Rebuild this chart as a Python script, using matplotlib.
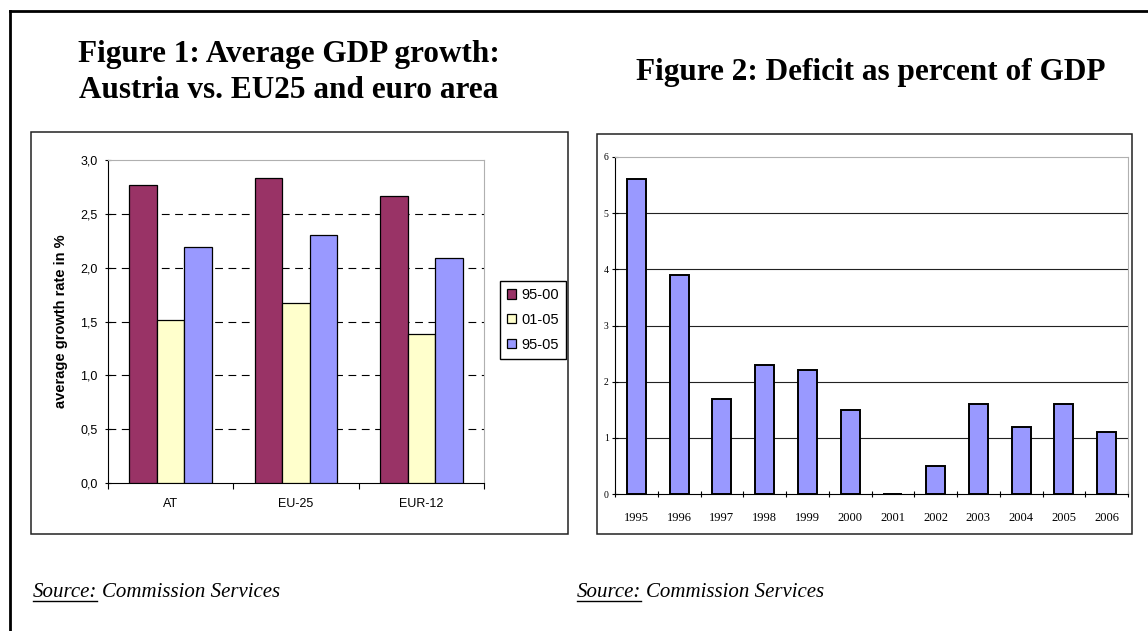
import matplotlib.pyplot as plt
import numpy as np
from matplotlib.patches import Rectangle
from matplotlib.lines import Line2D

# Figure 1 data
regions = ['AT', 'EU-25', 'EUR-12']
periods = ['95-00', '01-05', '95-05']
g_95_00 = [2.77, 2.83, 2.67]
g_01_05 = [1.51, 1.67, 1.38]
g_95_05 = [2.19, 2.30, 2.09]
growth_colors = ['#993366', '#FFFFCC', '#9999FF']

# Figure 2 data
years = ['1995', '1996', '1997', '1998', '1999', '2000',
         '2001', '2002', '2003', '2004', '2005', '2006']
deficit = [5.6, 3.9, 1.7, 2.3, 2.2, 1.5, 0.0, 0.5, 1.6, 1.2, 1.6, 1.1]

W, H = 1148, 631
fig = plt.figure(figsize=(W / 100, H / 100), dpi=100)
renderer = fig.canvas.get_renderer()

def fx(px):
    return px / W

def fy(py):
    return 1 - py / H

# outer frame (only left and top edges visible)
fig.add_artist(Line2D([fx(10), fx(10)], [fy(11), 0], color='black', lw=2))
fig.add_artist(Line2D([fx(10), 1], [fy(11), fy(11)], color='black', lw=2))

# panel boxes
fig.add_artist(Rectangle((fx(31), fy(534)), fx(568 - 31), (534 - 132) / H,
                         fill=False, ec='#222222', lw=1.1))
fig.add_artist(Rectangle((fx(597), fy(534)), fx(1132 - 597), (534 - 134) / H,
                         fill=False, ec='#222222', lw=1.1))

# titles
title_font = dict(family='Liberation Serif', weight='bold', fontsize=22.5)
fig.text(fx(289), fy(62), 'Figure 1: Average GDP growth:', ha='center', va='baseline', **title_font)
fig.text(fx(289), fy(98), 'Austria vs. EU25 and euro area', ha='center', va='baseline', **title_font)
fig.text(fx(1105), fy(80), 'Figure 2: Deficit as percent of GDP', ha='right', va='baseline', **title_font)

# source notes
src_font = dict(family='Liberation Serif', style='italic', fontsize=15)
for x0 in [33, 577]:
    t = fig.text(fx(x0), fy(597), 'Source:', ha='left', va='baseline', **src_font)
    bb = t.get_window_extent(renderer)
    fig.text(fx(bb.x1 + 5), fy(597), 'Commission Services', ha='left', va='baseline', **src_font)
    fig.add_artist(Line2D([fx(bb.x0), fx(bb.x1)], [fy(601), fy(601)], color='black', lw=1))

# ---- Figure 1 ----
ax1 = fig.add_axes([fx(108), fy(483), fx(484 - 108), (483 - 160) / H])
x = np.arange(len(regions)) + 0.5
bw = 0.22
for i, (vals, lab) in enumerate(zip([g_95_00, g_01_05, g_95_05], periods)):
    ax1.bar(x + (i - 1) * bw, vals, bw, color=growth_colors[i], edgecolor='black',
            lw=0.9, label=lab, zorder=3)
ax1.set_xlim(0, 3)
ax1.set_ylim(0, 3.0)
yt = np.arange(0, 3.01, 0.5)
ax1.set_yticks(yt)
ax1.set_yticklabels([('%.1f' % v).replace('.', ',') for v in yt],
                    family='Liberation Sans', fontsize=9)
ax1.set_xticks([0, 1, 2, 3])
ax1.set_xticklabels([])
ax1.set_xticks(x, minor=True)
ax1.set_xticklabels(regions, minor=True, family='Liberation Sans', fontsize=9)
ax1.tick_params(axis='x', which='minor', length=0, pad=11)
ax1.tick_params(axis='x', which='major', length=4, direction='out', width=0.8)
ax1.tick_params(axis='y', length=5, direction='inout', width=0.8, pad=5)
for v in yt[1:-1]:
    ax1.axhline(v, color='black', ls=(0, (7, 5)), lw=0.8, zorder=1)
ax1.spines['top'].set_color('#b0b0b0')
ax1.spines['right'].set_color('#b0b0b0')
ax1.set_ylabel('average growth rate in %', family='Liberation Sans', weight='bold',
               fontsize=10.5, labelpad=9)
ax1.legend(loc='center left', bbox_to_anchor=(fx(500), fy(320)),
           bbox_transform=fig.transFigure, prop={'family': 'Liberation Sans', 'size': 10.5},
           handlelength=0.6, handleheight=0.6, handletextpad=0.35, labelspacing=0.75,
           borderpad=0.5, borderaxespad=0, fancybox=False, edgecolor='black', framealpha=1)

# ---- Figure 2 ----
ax2 = fig.add_axes([fx(615), fy(494), fx(1128 - 615), (494 - 157) / H])
xx = np.arange(len(years)) + 0.5
ax2.bar(xx, deficit, 0.44, color='#9999FF', edgecolor='black', lw=1.4, zorder=3)
ax2.set_xlim(0, len(years))
ax2.set_ylim(0, 6)
ax2.set_yticks(range(7))
ax2.set_yticklabels([str(v) for v in range(7)], family='Liberation Serif', fontsize=7)
ax2.set_xticks(range(len(years) + 1))
ax2.set_xticklabels([])
ax2.set_xticks(xx, minor=True)
ax2.set_xticklabels(years, minor=True, family='Liberation Serif', fontsize=9)
ax2.tick_params(axis='x', which='minor', length=0, pad=13)
ax2.tick_params(axis='x', which='major', length=5, direction='inout', width=0.8)
ax2.tick_params(axis='y', length=5, direction='inout', width=0.8, pad=2)
for v in range(1, 6):
    ax2.axhline(v, color='#222222', lw=0.8, zorder=1)
ax2.spines['top'].set_color('#b0b0b0')
ax2.spines['right'].set_color('#b0b0b0')

fig.savefig('out.png', dpi=100)
